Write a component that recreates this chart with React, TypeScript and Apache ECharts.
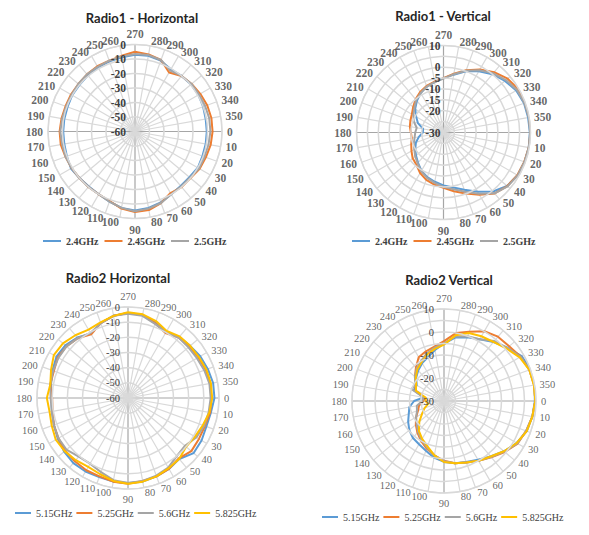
import { useEffect, useRef } from 'react'
import * as echarts from 'echarts'

// measured angles, degrees (Excel radar starts at 270 on top, clockwise)
const angles = [0, 10, 20, 30, 40, 50, 60, 70, 80, 90, 100, 110, 120, 130, 140, 150, 160, 170,
  180, 190, 200, 210, 220, 230, 240, 250, 260, 270, 280, 290, 300, 310, 320, 330, 340, 350]

// Radio1 - Horizontal (dB)
const r1h24 = [-10.5, -10.5, -10.5, -10, -11, -11, -10, -8, -6.5, -5.5, -6.5, -8.5, -10, -10.5, -10, -9, -10, -10.5,
  -10.5, -10.5, -10.5, -10, -10, -9.5, -9, -8.5, -8, -7, -7, -8, -10.5, -10, -9.5, -9.5, -10, -10.5]
const r1h245 = [-6.5, -7, -8, -8.5, -10, -10, -11, -7.5, -5, -4.5, -6, -9, -10, -10, -10, -9.5, -9, -8,
  -8, -8.5, -9, -9, -9, -8.5, -8, -8, -7, -5, -6, -7.5, -13, -10, -9, -8, -7, -6.5]
const r1h25 = [-8, -8.5, -9, -9, -10.5, -10.5, -10, -7.5, -6, -5, -6.5, -8.5, -10, -10, -10, -9.5, -9, -9,
  -8.5, -9, -9.5, -9.5, -9, -8.5, -8.5, -8, -7.5, -6.5, -6.5, -7.5, -11.5, -10, -9, -9, -8.5, -8]

// Radio1 - Vertical (dB)
const r1v24 = [9.7, 9.8, 9.6, 9.3, 8.2, 5.4, 1.5, -2, -4.3, -5.7, -7, -8.2, -9.7, -11.8, -13.5, -15, -16.5, -18.5,
  -20.5, -20.5, -17.5, -15.5, -13, -11, -9, -7.5, -6.5, -5, -3, 0, 2.5, 5, 6.9, 8.6, 9.4, 9.5]
const r1v245 = [10, 9.8, 9.5, 9.2, 8.3, 6.6, 3, -0.2, -2.6, -4.6, -5.7, -6.8, -8.5, -10.6, -11.5, -13, -14.2, -15.2,
  -15, -14.3, -13.8, -13.2, -11.8, -10, -8.5, -7.2, -6.3, -5, -2.5, 0.5, 3.5, 6.2, 8.5, 9.7, 9.8, 10]
const r1v25 = [9.8, 9.8, 9.6, 9.4, 8.5, 6.5, 2.5, -1, -3.5, -5, -6.5, -7.8, -9.5, -11.5, -13, -14.5, -15.5, -16.5,
  -17, -17.5, -15.5, -14, -12.5, -10.5, -9, -7.5, -6.5, -5.2, -2.8, 0.2, 3, 5.5, 7.5, 9, 9.6, 9.8]

// Radio2 Horizontal (dB)
const r2h515 = [-3, -4.5, -5, -4, -3.5, -7.5, -6, -5, -4, -4, -4, -4.5, -4, -4, -5, -6.5, -8, -9,
  -9.5, -8.5, -7, -5.5, -6, -8, -11, -7.5, -5, -4, -4.5, -7, -10, -7.5, -6.5, -5, -4, -3]
const r2h525 = [-5, -5, -6, -6, -5.5, -8, -6, -5, -4.5, -3.5, -4, -5, -5, -5.5, -6, -7, -8, -9.5,
  -10, -8, -8, -6.5, -7, -8.5, -11.5, -7.5, -5, -4, -4.5, -7.5, -10.5, -8, -7.5, -6.5, -5.5, -5]
const r2h56 = [-5.5, -6, -6.5, -8, -11, -10, -7, -5.5, -4.5, -4, -5, -8, -10, -9.5, -7, -7, -8, -9,
  -9, -8, -7.5, -7, -7, -8.5, -10.5, -7.5, -5, -4.5, -5, -8, -10, -8, -8, -7.5, -6.5, -5.5]
const r2h5825 = [-4.5, -5.5, -7.5, -9, -10, -7.5, -6.5, -5, -4, -3.5, -4.5, -6.5, -7.5, -6.5, -5.5, -5, -6.5, -7.5,
  -6.5, -8, -6, -3.5, -4, -6, -8, -7, -5, -3.5, -4, -6, -9, -7, -6.5, -6, -5, -4.5]

// Radio2 Vertical (dB)
const r2v515 = [9.5, 9, 8.3, 6.5, 4, 1.5, -0.5, -1.8, -2.5, -3.5, -5, -7, -8.3, -9, -10.3, -12, -13.7, -14.7,
  -17, -21, -16, -16.3, -14.2, -12.6, -11, -9.7, -7.5, -5, -2, -0.5, 1, 3.5, 6, 9, 10, 10]
const r2v525 = [9.7, 9, 8, 7, 4.5, 2, 0, -1.5, -2.5, -4, -6, -8, -10, -12, -14, -16, -18, -19,
  -21, -21.5, -17, -15.5, -13.5, -11, -8, -7, -6, -4, 0, 2, 5, 6.5, 7, 8.5, 9.5, 9.8]
const r2v56 = [9.7, 9, 8, 6.8, 4.2, 1.8, 0, -1.5, -2.5, -3.8, -6, -8.5, -10.5, -12.5, -14.5, -16, -17.5, -18,
  -20.5, -21, -15, -15.5, -13.5, -11.5, -10, -8, -6.5, -5, -1.5, 0, 1, 4, 6, 8.5, 9.5, 9.8]
const r2v5825 = [9.7, 9, 8.3, 6.5, 4, 1.5, 0, -1.5, -2.5, -3.5, -6, -9, -11, -13, -16, -19, -21, -23,
  -22, -22, -17, -16, -14, -12, -10.5, -8.5, -7, -5.5, -1, 1.5, 2.5, 3.5, 5.5, 8, 9.5, 9.7]

const radio1Names = ['2.4GHz', '2.45GHz', '2.5GHz']
const radio2Names = ['5.15GHz', '5.25GHz', '5.6GHz', '5.825GHz']
const colors = ['#5B9BD5', '#ED7D31', '#A5A5A5', '#FFC000']

const titles = ['Radio1 - Horizontal', 'Radio1 - Vertical', 'Radio2 Horizontal', 'Radio2 Vertical']

// angle position on the axis: 270 sits at the top, clockwise
const anglePos = (deg: number) => (deg - 270 + 360) % 360

// convert to [radius, angle], closing the loop
function toPolar(vals: number[]) {
  const pts: number[][] = []
  for (let k = 0; k <= 36; k++) {
    const deg = (270 + k * 10) % 360
    pts.push([vals[angles.indexOf(deg)], k * 10])
  }
  return pts
}

export default function App() {
  const chartRef = useRef<HTMLDivElement>(null)

  useEffect(() => {
    if (!chartRef.current) return
    const chart = echarts.init(chartRef.current, null, { renderer: 'svg' })

    const panels = [
      { center: [135, 131.5], radius: 87, min: -60, max: 0, interval: 10, bold: true, names: radio1Names, data: [r1h24, r1h245, r1h25], every: 10, margin: 9 },
      { center: [443.5, 132.5], radius: 87, min: -30, max: 10, interval: 5, bold: true, names: radio1Names, data: [r1v24, r1v245, r1v25], every: 5, margin: 3 },
      { center: [128, 398], radius: 91, min: -60, max: 0, interval: 10, bold: false, names: radio2Names, data: [r2h515, r2h525, r2h56, r2h5825], every: 10, margin: 8 },
      { center: [444, 401], radius: 92, min: -30, max: 10, interval: 5, bold: false, names: radio2Names, data: [r2v515, r2v525, r2v56, r2v5825], every: 10, margin: 10 },
    ]
    const titlePos = [[142, 11], [443, 9], [118, 271], [449, 273]]
    const legendPos = [[43, 236], [352, 236], [15, 508], [322, 512]]

    const labelFont = (bold: boolean) => ({
      fontFamily: 'Liberation Serif',
      fontWeight: bold ? 'bold' : 'normal',
      fontSize: bold ? 11.5 : 10.5,
      color: '#404040',
    })

    const spokeColors = ['#a6a6a6', '#d9d9d9', '#d9d9d9', '#d9d9d9', '#d9d9d9', '#d9d9d9', '#d9d9d9', '#d9d9d9', '#d9d9d9']

    // category labels around the ring, Excel style alignment
    const ringLabels = (p: typeof panels[number], i: number) => {
      const rLab = p.max + (5 * (p.max - p.min)) / p.radius
      return {
        type: 'scatter',
        coordinateSystem: 'polar',
        polarIndex: i,
        silent: true,
        clip: false,
        symbolSize: 1,
        itemStyle: { color: 'rgba(255,255,255,0)' },
        label: { show: true, position: 'inside', formatter: '{b}', ...labelFont(p.bold) },
        z: 1,
        data: angles.map((deg) => {
          const a = anglePos(deg)
          let align = 'center'
          let verticalAlign = 'middle'
          if (a === 0) verticalAlign = 'bottom'
          else if (a === 180) verticalAlign = 'top'
          else if (a < 180) align = 'left'
          else align = 'right'
          return { name: String(deg), value: [rLab, a], label: { align, verticalAlign } }
        }),
      }
    }

    const option = {
      animation: false,
      backgroundColor: '#ffffff',
      title: titles.map((t, i) => ({
        text: t,
        left: titlePos[i][0],
        top: titlePos[i][1],
        textAlign: 'center',
        padding: 0,
        textStyle: { fontFamily: 'Lato', fontWeight: 'bold', fontSize: 13, color: '#262626' },
      })),
      legend: panels.map((p, i) => ({
        data: p.names,
        left: legendPos[i][0],
        top: legendPos[i][1],
        padding: 0,
        icon: 'rect',
        itemWidth: p.bold ? 18 : 16,
        itemHeight: 2,
        itemGap: p.bold ? 6 : 4,
        selectedMode: false,
        textStyle: { ...labelFont(p.bold), fontSize: 10, lineHeight: 10 },
      })),
      polar: panels.map((p) => ({ center: p.center, radius: p.radius })),
      angleAxis: panels.map((p, i) => ({
        polarIndex: i,
        type: 'value',
        min: 0,
        max: 360,
        interval: 10,
        startAngle: 90,
        clockwise: true,
        axisLine: { show: true, lineStyle: { color: '#d9d9d9', width: 1.2 } },
        axisTick: { show: false },
        axisLabel: { show: false },
        splitLine: { show: true, lineStyle: { color: spokeColors, width: 1.2 } },
      })),
      radiusAxis: panels.map((p, i) => ({
        polarIndex: i,
        type: 'value',
        min: p.min,
        max: p.max,
        interval: p.interval,
        axisLine: { show: false },
        axisTick: { show: false },
        axisLabel: {
          ...labelFont(p.bold),
          margin: p.margin,
          showMinLabel: true,
          showMaxLabel: true,
          formatter: (v: number) => (v % p.every === 0 ? String(v) : ''),
        },
        splitLine: { show: true, lineStyle: { color: '#d9d9d9', width: 1.5 } },
        z: 5,
      })),
      series: [
        ...panels.flatMap((p, i) =>
          p.data.map((vals, j) => ({
            name: p.names[j],
            type: 'line',
            coordinateSystem: 'polar',
            polarIndex: i,
            symbol: 'none',
            color: colors[j],
            lineStyle: { color: colors[j], width: 2 },
            z: 3,
            data: toPolar(vals),
          })),
        ),
        ...panels.map((p, i) => ringLabels(p, i)),
      ],
    }

    chart.setOption(option)
    return () => {
      chart.dispose()
    }
  }, [])

  return (
    <div
      ref={chartRef}
      style={{ position: 'absolute', left: 0, top: 0, width: 589, height: 535 }}
    />
  )
}
